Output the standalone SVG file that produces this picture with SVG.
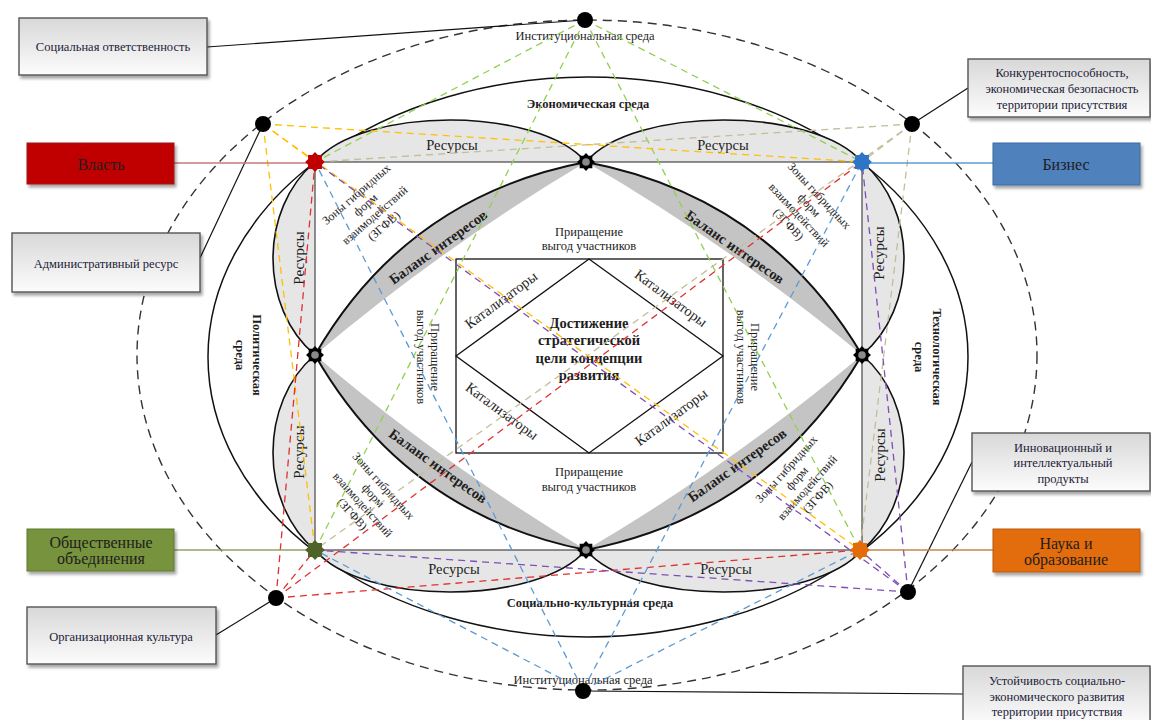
<svg xmlns="http://www.w3.org/2000/svg" xmlns:xlink="http://www.w3.org/1999/xlink" width="1151" height="720" viewBox="0 0 1151 720">
<style>
.t{font-family:"Liberation Serif","Times New Roman",serif;fill:#1e1e1e;text-anchor:middle;dominant-baseline:central}
.b{font-weight:bold}
.s11{font-size:12px}.s12{font-size:12.5px}.s13{font-size:14.5px}.s14{font-size:14.5px}.s15{font-size:15px}.s16{font-size:16px}
.ct{font-family:"Liberation Serif","Times New Roman",serif;fill:#1c1c38;font-size:12.5px;text-anchor:middle;dominant-baseline:central}
.res{fill:#e6e6e6;stroke:none}
.bal{fill:#c4c4c4;stroke:none}
.curve{fill:none;stroke:#111;stroke-width:1.6}
.balc{fill:none;stroke:#111;stroke-width:2}
.rect{fill:none;stroke:#555;stroke-width:1.3}
.dash{fill:none;stroke-width:1.3;stroke-dasharray:7 5}
.g{stroke:#92d050}.y{stroke:#ffc000}.k{stroke:#c4bd97}.r{stroke:#e0312f}.p{stroke:#7f4fb5}.bl{stroke:#5b9bd5}
.cl{stroke:#111;stroke-width:1.2;fill:none}
.call{fill:url(#cg);stroke:#555;stroke-width:1.4;filter:url(#sh)}
.dot{fill:#000}
</style>
<defs>
<linearGradient id="cg" x1="0" y1="0" x2="0" y2="1">
<stop offset="0" stop-color="#d8d8d8"/>
<stop offset="1" stop-color="#fcfcfc"/>
</linearGradient>
<filter id="sh" x="-10%" y="-20%" width="130%" height="150%">
<feDropShadow dx="2" dy="3" stdDeviation="1.5" flood-color="#000" flood-opacity="0.35"/>
</filter>
<polygon id="gear" points="9,0 6.28,2.6 6.36,6.36 2.6,6.28 0,9 -2.6,6.28 -6.36,6.36 -6.28,2.6 -9,0 -6.28,-2.6 -6.36,-6.36 -2.6,-6.28 0,-9 2.6,-6.28 6.36,-6.36 6.28,-2.6"/>
</defs>
<rect width="1151" height="720" fill="#fff"/>

<g id="environment">
<ellipse cx="587" cy="355" rx="450" ry="335" fill="none" stroke="#333" stroke-width="1.4" stroke-dasharray="9 6"/>
<ellipse cx="588" cy="357" rx="380" ry="280" fill="none" stroke="#111" stroke-width="1.5"/>
<text class="t s12" x="585" y="36">Институциональная среда</text>
<text class="t s12" x="583" y="680">Институциональная среда</text>
<text class="t s12 b" x="588" y="104">Экономическая среда</text>
<text class="t s12 b" x="590" y="603">Социально-культурная среда</text>
<text class="t s12 b" transform="translate(249,355) rotate(90)"><tspan x="0" y="-8">Политическая</tspan><tspan x="0" y="9">среда</tspan></text>
<text class="t s12 b" transform="translate(928,357) rotate(90)"><tspan x="0" y="-9">Технологическая</tspan><tspan x="0" y="9">среда</tspan></text>
</g>

<g id="resources">
<path class="res" d="M315,162 C362,106 538,106 586,162 C633,106 814,106 862,162 Z"/>
<path class="res" d="M315,550 C362,606 538,606 586,550 C633,606 814,606 862,550 Z"/>
<path class="res" d="M315,162 C259,209 259,308 315,355 C259,402 259,503 315,550 Z"/>
<path class="res" d="M862,162 C918,209 918,308 862,355 C918,402 918,503 862,550 Z"/>
<path class="curve" d="M315,162 C362,106 538,106 586,162 C633,106 814,106 862,162"/>
<path class="curve" d="M315,550 C362,606 538,606 586,550 C633,606 814,606 862,550"/>
<path class="curve" d="M315,162 C259,209 259,308 315,355 C259,402 259,503 315,550"/>
<path class="curve" d="M862,162 C918,209 918,308 862,355 C918,402 918,503 862,550"/>
<rect class="rect" x="315" y="162" width="547" height="388"/>
<text class="t s14" x="452" y="145">Ресурсы</text>
<text class="t s14" x="723" y="145">Ресурсы</text>
<text class="t s14" x="454" y="569">Ресурсы</text>
<text class="t s14" x="726" y="569">Ресурсы</text>
<text class="t s15" transform="translate(299,258) rotate(-90)">Ресурсы</text>
<text class="t s15" transform="translate(299,452) rotate(-90)">Ресурсы</text>
<text class="t s15" transform="translate(879,253) rotate(-90)">Ресурсы</text>
<text class="t s15" transform="translate(880,455) rotate(-90)">Ресурсы</text>
</g>

<g id="balance">
<path class="bal" d="M315,355 Q406.3,196.7 586,162 Q442.4,247.2 315,355 Z"/>
<path class="bal" d="M586,162 Q767.5,196.2 862,355 Q732,247 586,162 Z"/>
<path class="bal" d="M315,355 Q406.1,514.2 586,550 Q442.3,463.9 315,355 Z"/>
<path class="bal" d="M586,550 Q767.9,514.6 862,355 Q732.1,464.1 586,550 Z"/>
<path class="balc" d="M315,355 Q406.3,196.7 586,162"/>
<path class="balc" d="M586,162 Q767.5,196.2 862,355"/>
<path class="balc" d="M315,355 Q406.1,514.2 586,550"/>
<path class="balc" d="M586,550 Q767.9,514.6 862,355"/>
<text class="t s14 b" transform="translate(438,247) rotate(-35.6)">Баланс интересов</text>
<text class="t s14 b" transform="translate(735,247) rotate(35)">Баланс интересов</text>
<text class="t s14 b" transform="translate(438,466) rotate(35.7)">Баланс интересов</text>
<text class="t s14 b" transform="translate(737,465) rotate(-35.2)">Баланс интересов</text>
</g>

<g id="zones">
<text class="t s11" transform="translate(370,210) rotate(-41)"><tspan x="0" y="-21">Зоны гибридных</tspan><tspan x="0" y="-7">форм</tspan><tspan x="0" y="7">взаимодействий</tspan><tspan x="0" y="21">(ЗГФВ)</tspan></text>
<text class="t s11" transform="translate(804,210) rotate(47)"><tspan x="0" y="-21">Зоны гибридных</tspan><tspan x="0" y="-7">форм</tspan><tspan x="0" y="7">взаимодействий</tspan><tspan x="0" y="21">(ЗГФВ)</tspan></text>
<text class="t s11" transform="translate(368,500) rotate(48)"><tspan x="0" y="-21">Зоны гибридных</tspan><tspan x="0" y="-7">форм</tspan><tspan x="0" y="7">взаимодействий</tspan><tspan x="0" y="21">(ЗГФВ)</tspan></text>
<text class="t s11" transform="translate(802,483) rotate(-48)"><tspan x="0" y="-21">Зоны гибридных</tspan><tspan x="0" y="-7">форм</tspan><tspan x="0" y="7">взаимодействий</tspan><tspan x="0" y="21">(ЗГФВ)</tspan></text>
</g>

<g id="core">
<rect x="456" y="259" width="267" height="194" fill="#fff" stroke="#111" stroke-width="1.3"/>
<polygon points="589,259 723,356 589,453 456,356" fill="none" stroke="#111" stroke-width="1.3"/>
<text class="t s13" transform="translate(501,300) rotate(-36.4)">Катализаторы</text>
<text class="t s13" transform="translate(671,298) rotate(36.4)">Катализаторы</text>
<text class="t s13" transform="translate(502,411) rotate(36.4)">Катализаторы</text>
<text class="t s13" transform="translate(671,417) rotate(-36.4)">Катализаторы</text>
<text class="t s14 b"><tspan x="589" y="323">Достижение</tspan><tspan x="589" y="340">стратегической</tspan><tspan x="589" y="358">цели концепции</tspan><tspan x="589" y="375">развития</tspan></text>
<text class="t s12"><tspan x="589" y="232">Приращение</tspan><tspan x="589" y="246">выгод участников</tspan></text>
<text class="t s12"><tspan x="589" y="472">Приращение</tspan><tspan x="589" y="487">выгод участников</tspan></text>
<text class="t s12" transform="translate(428,357) rotate(90)"><tspan x="0" y="-7">Приращение</tspan><tspan x="0" y="7">выгод участников</tspan></text>
<text class="t s12" transform="translate(748,357) rotate(90)"><tspan x="0" y="-7">Приращение</tspan><tspan x="0" y="7">выгод участников</tspan></text>
</g>

<g id="connectors">
<line class="dash g" x1="585" y1="20" x2="315" y2="162"/>
<line class="dash g" x1="585" y1="20" x2="862" y2="162"/>
<line class="dash g" x1="585" y1="20" x2="315" y2="550"/>
<line class="dash g" x1="585" y1="20" x2="860" y2="550"/>
<line class="dash y" x1="263" y1="124" x2="315" y2="162"/>
<line class="dash y" x1="263" y1="124" x2="862" y2="162"/>
<line class="dash y" x1="263" y1="124" x2="315" y2="550"/>
<line class="dash y" x1="263" y1="124" x2="860" y2="550"/>
<line class="dash k" x1="912" y1="124" x2="862" y2="162"/>
<line class="dash k" x1="912" y1="124" x2="315" y2="162"/>
<line class="dash k" x1="912" y1="124" x2="860" y2="550"/>
<line class="dash k" x1="912" y1="124" x2="315" y2="550"/>
<line class="dash r" x1="276" y1="598" x2="315" y2="550"/>
<line class="dash r" x1="276" y1="598" x2="315" y2="162"/>
<line class="dash r" x1="276" y1="598" x2="860" y2="550"/>
<line class="dash r" x1="276" y1="598" x2="862" y2="162"/>
<line class="dash p" x1="908" y1="592" x2="860" y2="550"/>
<line class="dash p" x1="908" y1="592" x2="862" y2="162"/>
<line class="dash p" x1="908" y1="592" x2="315" y2="162"/>
<line class="dash p" x1="908" y1="592" x2="315" y2="550"/>
<line class="dash bl" x1="583" y1="690" x2="315" y2="550"/>
<line class="dash bl" x1="583" y1="690" x2="860" y2="550"/>
<line class="dash bl" x1="583" y1="690" x2="315" y2="162"/>
<line class="dash bl" x1="583" y1="690" x2="862" y2="162"/>
<line class="cl" x1="207" y1="47" x2="585" y2="20"/>
<line class="cl" x1="200" y1="258" x2="263" y2="124"/>
<line class="cl" x1="216" y1="635" x2="276" y2="598"/>
<line class="cl" x1="968" y1="88" x2="912" y2="124"/>
<line class="cl" x1="972" y1="462" x2="908" y2="592"/>
<line class="cl" x1="963" y1="694" x2="583" y2="691"/>
<line x1="174" y1="163" x2="313" y2="163" stroke="#c47a78" stroke-width="1.6"/>
<line x1="862" y1="163" x2="993" y2="163" stroke="#5b9bd5" stroke-width="1.6"/>
<line x1="174" y1="550" x2="313" y2="550" stroke="#8fa462" stroke-width="1.6"/>
<line x1="860" y1="550" x2="993" y2="550" stroke="#c5844f" stroke-width="1.6"/>
</g>

<g id="m-top"><use href="#gear" x="586" y="162" fill="#000"/><circle cx="586" cy="162" r="3.8" fill="#8a8a8a"/></g>
<g id="m-left"><use href="#gear" x="315" y="355" fill="#000"/><circle cx="315" cy="355" r="3.8" fill="#8a8a8a"/></g>
<g id="m-right"><use href="#gear" x="862" y="355" fill="#000"/><circle cx="862" cy="355" r="3.8" fill="#8a8a8a"/></g>
<g id="m-bottom"><use href="#gear" x="586" y="550" fill="#000"/><circle cx="586" cy="550" r="3.8" fill="#8a8a8a"/></g>

<g id="n-vlast"><use href="#gear" transform="translate(315,162) scale(1.1)" fill="#c00000"/></g>
<g id="n-biznes"><use href="#gear" transform="translate(862,162) scale(1.1)" fill="#2e75c6"/></g>
<g id="n-obsh"><use href="#gear" transform="translate(315,550) scale(1.1)" fill="#4f6228"/></g>
<g id="n-nauka"><use href="#gear" transform="translate(860,550) scale(1.1)" fill="#e36c09"/></g>

<g id="d-top"><circle class="dot" cx="585" cy="20" r="8"/></g>
<g id="d-topleft"><circle class="dot" cx="263" cy="124" r="8"/></g>
<g id="d-topright"><circle class="dot" cx="912" cy="124" r="8"/></g>
<g id="d-botleft"><circle class="dot" cx="276" cy="598" r="8"/></g>
<g id="d-botright"><circle class="dot" cx="908" cy="592" r="8"/></g>
<g id="d-bottom"><circle class="dot" cx="583" cy="691" r="8"/></g>

<g id="vlast"><rect x="27" y="143" width="147" height="41" fill="#c00000" stroke="#9a1010" stroke-width="1" filter="url(#sh)"/><text class="t s16" x="101" y="164">Власть</text></g>
<g id="biznes"><rect x="993" y="143" width="147" height="42" fill="#4f81bd" stroke="#3b6aa0" stroke-width="1" filter="url(#sh)"/><text class="t s16" x="1066" y="164">Бизнес</text></g>
<g id="obsh"><rect x="27" y="529" width="147" height="42" fill="#77933c" stroke="#5e7a2c" stroke-width="1" filter="url(#sh)"/><text class="t s16"><tspan x="101" y="542">Общественные</tspan><tspan x="101" y="558">объединения</tspan></text></g>
<g id="nauka"><rect x="993" y="529" width="147" height="43" fill="#e36c09" stroke="#b85a10" stroke-width="1" filter="url(#sh)"/><text class="t s16"><tspan x="1066" y="543">Наука и</tspan><tspan x="1066" y="559">образование</tspan></text></g>

<g id="c-soc"><rect class="call" x="19" y="18" width="188" height="57"/><text class="ct" x="113" y="47">Социальная ответственность</text></g>
<g id="c-adm"><rect class="call" x="12" y="233" width="188" height="59"/><text class="ct" x="106" y="264">Административный ресурс</text></g>
<g id="c-org"><rect class="call" x="27" y="607" width="189" height="57"/><text class="ct" x="121" y="637">Организационная культура</text></g>
<g id="c-konk"><rect class="call" x="968" y="59" width="182" height="58"/><text class="ct"><tspan x="1062" y="73">Конкурентоспособность,</tspan><tspan x="1062" y="89">экономическая безопасность</tspan><tspan x="1062" y="105">территории присутствия</tspan></text></g>
<g id="c-innov"><rect class="call" x="972" y="433" width="178" height="58"/><text class="ct"><tspan x="1063" y="448">Инновационный и</tspan><tspan x="1063" y="463">интеллектуальный</tspan><tspan x="1063" y="479">продукты</tspan></text></g>
<g id="c-ust"><rect class="call" x="963" y="666" width="187" height="60"/><text class="ct"><tspan x="1057" y="681">Устойчивость социально-</tspan><tspan x="1057" y="697">экономического развития</tspan><tspan x="1057" y="712">территории присутствия</tspan></text></g>
</svg>
